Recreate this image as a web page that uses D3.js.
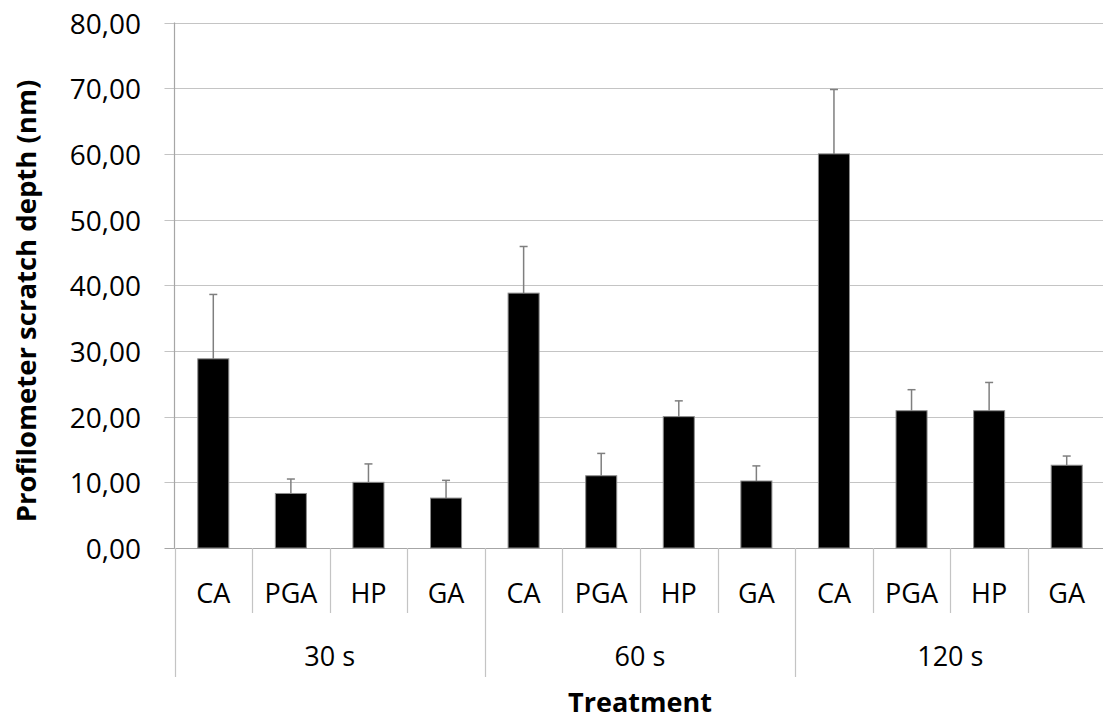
<!DOCTYPE html>
<html>
<head>
<meta charset="utf-8">
<script src="https://d3js.org/d3.v7.min.js"></script>
<style>
  html, body { margin: 0; padding: 0; background: #fff; }
  svg { display: block; font-family: "Open Sans", "Liberation Sans", sans-serif; }
</style>
</head>
<body>
<svg id="chart" width="1103" height="720"></svg>
<script>
// Profilometer scratch depth by treatment and exposure time
const groups = ["30 s", "60 s", "120 s"];
const treatments = ["CA", "PGA", "HP", "GA"];
const means30 = [28.8, 8.3, 10.0, 7.6];
const means60 = [38.8, 11.0, 20.0, 10.2];
const means120 = [60.0, 20.9, 20.9, 12.6];
const sd30 = [9.8, 2.2, 2.8, 2.7];
const sd60 = [7.1, 3.4, 2.4, 2.3];
const sd120 = [9.8, 3.2, 4.3, 1.4];
const yTicks = [0, 10, 20, 30, 40, 50, 60, 70, 80];

(function () {
  const means = [means30, means60, means120];
  const sds = [sd30, sd60, sd120];
  const rows = [];
  groups.forEach((g, gi) => {
    treatments.forEach((t, ti) => {
      rows.push({ key: g + "|" + t, group: g, treatment: t, value: means[gi][ti], sd: sds[gi][ti] });
    });
  });

  const svg = d3.select("#chart");
  const plotLeft = 174.5, plotRight = 1105.5, plotTop = 22.5, plotBottom = 548;

  const x = d3.scaleBand().domain(rows.map(d => d.key)).range([plotLeft, plotRight]).padding(0);
  const xg = d3.scaleBand().domain(groups).range([plotLeft, plotRight]).padding(0);
  const y = d3.scaleLinear().domain([0, 80]).range([plotBottom, plotTop]);

  const gridColor = "#c4c4c4";
  const axisColor = "#a6a6a6";

  // horizontal gridlines with outward tick stubs
  svg.append("g").selectAll("line").data(yTicks).join("line")
    .attr("x1", plotLeft - 10).attr("x2", plotRight)
    .attr("y1", d => Math.round(y(d)) + 0.5).attr("y2", d => Math.round(y(d)) + 0.5)
    .attr("stroke", d => d === 0 ? axisColor : gridColor).attr("stroke-width", 1.2);

  // y axis line
  svg.append("line")
    .attr("x1", plotLeft).attr("x2", plotLeft).attr("y1", plotTop).attr("y2", plotBottom)
    .attr("stroke", axisColor).attr("stroke-width", 1.2);

  // y tick labels
  svg.append("g").selectAll("text").data(yTicks).join("text")
    .attr("x", 141).attr("y", d => y(d))
    .attr("text-anchor", "end").attr("dominant-baseline", "central")
    .attr("font-size", 28).attr("fill", "#000")
    .text(d => d3.format(".2f")(d).replace(".", ","));

  // category separators below the axis
  const catBounds = rows.map(d => x(d.key)).filter((v, i) => i % treatments.length !== 0);
  svg.append("g").selectAll("line").data(catBounds).join("line")
    .attr("x1", d => Math.round(d) + 0.5).attr("x2", d => Math.round(d) + 0.5)
    .attr("y1", plotBottom).attr("y2", 613)
    .attr("stroke", gridColor).attr("stroke-width", 1.2);

  // group separators
  const groupBounds = groups.map(g => xg(g)).concat([plotRight]);
  svg.append("g").selectAll("line").data(groupBounds).join("line")
    .attr("x1", d => Math.round(d) + 0.5).attr("x2", d => Math.round(d) + 0.5)
    .attr("y1", plotBottom).attr("y2", 677)
    .attr("stroke", gridColor).attr("stroke-width", 1.2);

  // bars
  const barW = x.bandwidth() * 0.4;
  svg.append("g").selectAll("rect").data(rows).join("rect")
    .attr("x", d => x(d.key) + (x.bandwidth() - barW) / 2)
    .attr("y", d => y(d.value))
    .attr("width", barW)
    .attr("height", d => y(0) - y(d.value))
    .attr("fill", "#000").attr("stroke", "#8c8c8c").attr("stroke-width", 1);

  // error bars (upper only)
  const eb = svg.append("g").attr("stroke", "#7f7f7f").attr("stroke-width", 1.5);
  eb.selectAll("line.v").data(rows).join("line").attr("class", "v")
    .attr("x1", d => x(d.key) + x.bandwidth() / 2).attr("x2", d => x(d.key) + x.bandwidth() / 2)
    .attr("y1", d => y(d.value)).attr("y2", d => y(d.value + d.sd));
  eb.selectAll("line.c").data(rows).join("line").attr("class", "c")
    .attr("x1", d => x(d.key) + x.bandwidth() / 2 - 4).attr("x2", d => x(d.key) + x.bandwidth() / 2 + 4)
    .attr("y1", d => y(d.value + d.sd)).attr("y2", d => y(d.value + d.sd));

  // treatment labels
  svg.append("g").selectAll("text").data(rows).join("text")
    .attr("x", d => x(d.key) + x.bandwidth() / 2).attr("y", 603)
    .attr("text-anchor", "middle").attr("font-size", 27).attr("fill", "#000")
    .text(d => d.treatment);

  // group labels
  svg.append("g").selectAll("text").data(groups).join("text")
    .attr("x", d => xg(d) + xg.bandwidth() / 2).attr("y", 666)
    .attr("text-anchor", "middle").attr("font-size", 27).attr("fill", "#000")
    .text(d => d);

  // axis titles
  svg.append("text")
    .attr("x", (plotLeft + plotRight) / 2).attr("y", 712)
    .attr("text-anchor", "middle").attr("font-size", 27).attr("font-weight", "bold")
    .text("Treatment");

  svg.append("text")
    .attr("transform", `translate(36, ${(77 + 525) / 2}) rotate(-90)`)
    .attr("text-anchor", "middle").attr("font-size", 27.5).attr("font-weight", "bold")
    .text("Profilometer scratch depth (nm)");
})();
</script>
</body>
</html>
